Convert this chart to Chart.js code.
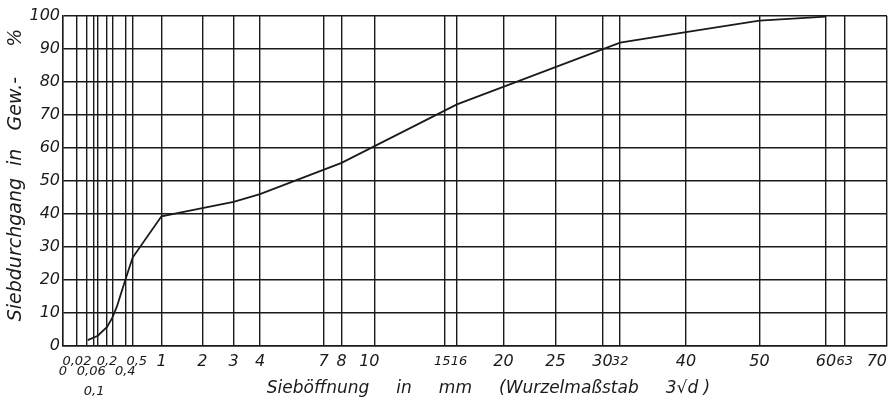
<!DOCTYPE html>
<html>
<head>
<meta charset="utf-8">
<script src="https://cdn.jsdelivr.net/npm/chart.js@4.4.1/dist/chart.umd.min.js"></script>
<style>
  html, body { margin: 0; padding: 0; background: #ffffff; }
  #wrap { width: 893px; height: 402px; }
</style>
</head>
<body>
<div id="wrap"><canvas id="c" width="893" height="402"></canvas></div>
<script>
// ---- data ----
const sieveSizes   = [0.063, 0.125, 0.2, 0.25, 0.3, 0.4, 0.5, 1, 2, 3, 4, 8, 16, 32, 40, 50, 60];
const passingPct   = [1.8, 3.1, 5.8, 8.5, 12, 20, 26.8, 39.3, 41.8, 43.7, 46, 55.5, 73.2, 91.9, 95.1, 98.6, 99.8];

const xTickValues  = [0, 0.02, 0.06, 0.1, 0.125, 0.2, 0.25, 0.4, 0.5, 1, 2, 3, 4, 7, 8, 10, 15, 16, 20, 25, 30, 32, 40, 50, 60, 63, 70];
const xTickLabels  = ['0', '0,02', '0,06', '0,1', '', '0,2', '', '0,4', '0,5', '1', '2', '3', '4', '7', '8', '10', '15', '16', '20', '25', '30', '32', '40', '50', '60', '63', '70'];
const yTickValues  = [0, 10, 20, 30, 40, 50, 60, 70, 80, 90, 100];

const xTitleWords = ['Sieböffnung', 'in', 'mm', '(Wurzelmaßstab', '3√d', ')'];
const yTitleWords = ['Siebdurchgang', 'in', 'Gew.-', '%'];

// ---- layout-only label tweaks (rows, nudges, small lettering) ----
const labelRow   = { '0': 2, '0,06': 2, '0,4': 2, '0,1': 4 };
const NB = '\u00a0';
const padBefore  = { '0,06': 2, '0,5': 2, '16': 1 };
const padAfter   = { '10': 2, '15': 1, '70': 4 };
const smallLbl   = { '16': 1, '32': 1, '63': 1, '15': 1 };

// ---- square-root scale ----
class SqrtScale extends Chart.LinearScale {
  getPixelForValue(value) {
    const a = Math.sqrt(Math.max(this.min, 0));
    const b = Math.sqrt(this.max);
    const v = Math.sqrt(Math.max(value, 0));
    return this.getPixelForDecimal((v - a) / (b - a));
  }
  getValueForPixel(pixel) {
    const a = Math.sqrt(Math.max(this.min, 0));
    const b = Math.sqrt(this.max);
    const s = a + this.getDecimalForPixel(pixel) * (b - a);
    return s * s;
  }
}
SqrtScale.id = 'sqrt';
SqrtScale.defaults = {};
Chart.register(SqrtScale);

const FONT = '"DejaVu Sans", "Liberation Sans", sans-serif';
const INK = '#1a1a1a';

function joinWords(words, gaps) {
  return words.map((w, i) => (i === 0 ? '' : ' '.repeat(gaps[i - 1])) + w).join('');
}

new Chart(document.getElementById('c'), {
  type: 'line',
  data: {
    datasets: [{
      data: sieveSizes.map((d, i) => ({ x: d, y: passingPct[i] })),
      borderColor: INK,
      borderWidth: 1.8,
      pointRadius: 0,
      tension: 0,
      fill: false
    }]
  },
  options: {
    responsive: false,
    animation: false,
    layout: { padding: { top: 16, right: 6, left: 0, bottom: 0 } },
    plugins: { legend: { display: false }, tooltip: { enabled: false } },
    scales: {
      x: {
        type: 'sqrt',
        min: 0,
        max: 70,
        afterBuildTicks: (s) => { s.ticks = xTickValues.map(v => ({ value: v })); },
        afterFit: (s) => { s.height = 56; s.paddingLeft = 0; s.paddingRight = 0; },
        grid: { color: INK, lineWidth: 1.4, drawTicks: false },
        border: { display: true, color: INK, width: 1.4 },
        ticks: {
          autoSkip: false,
          maxRotation: 0,
          minRotation: 0,
          padding: 11,
          color: INK,
          font: (ctx) => {
            const lbl = xTickLabels[ctx.index] || '';
            const small = lbl.indexOf(',') >= 0 || lbl === '0' || smallLbl[lbl];
            return { family: FONT, style: 'italic', size: small ? 13 : 16, lineHeight: '10px' };
          },
          callback: (value, index) => {
            const lbl = xTickLabels[index];
            const row = labelRow[lbl] || 1;
            const out = [];
            for (let i = 1; i < row; i++) out.push('');
            out.push(NB.repeat(padBefore[lbl] || 0) + lbl + NB.repeat(padAfter[lbl] || 0));
            return out;
          }
        },
        title: {
          display: true,
          text: '     ' + joinWords(xTitleWords, [5, 5, 5, 5, 1]),
          color: INK,
          font: { family: FONT, style: 'italic', size: 17 },
          padding: { top: 0, bottom: 3 }
        }
      },
      y: {
        min: 0,
        max: 100,
        afterBuildTicks: (s) => { s.ticks = yTickValues.map(v => ({ value: v })); },
        afterFit: (s) => { s.width = 63; s.paddingTop = 0; s.paddingBottom = 0; },
        grid: { color: INK, lineWidth: 1.4, drawTicks: false },
        border: { display: true, color: INK, width: 1.4 },
        ticks: {
          padding: 3,
          color: INK,
          font: { family: FONT, style: 'italic', size: 16 },
          callback: (v) => String(v)
        },
        title: {
          display: true,
          text: '  ' + joinWords(yTitleWords, [2, 3, 5]),
          color: INK,
          font: { family: FONT, style: 'italic', size: 19 },
          padding: { top: 5, bottom: 0 }
        }
      }
    }
  }
});
</script>
</body>
</html>
